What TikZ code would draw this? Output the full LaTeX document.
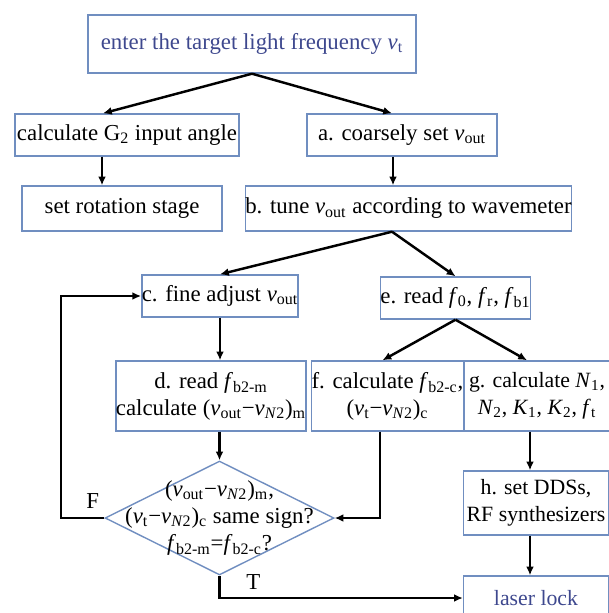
\documentclass[tikz,border=0pt]{standalone}
\usepackage{fontspec}
\setmainfont{Liberation Serif}
\usetikzlibrary{positioning,shapes.geometric,arrows.meta}

\definecolor{boxblue}{RGB}{112,142,192}
\definecolor{textblue}{RGB}{62,72,142}

\newcommand{\nuv}[1]{\textit{ν}\textsubscript{#1}}
\newcommand{\nuN}{\textit{ν}\textsubscript{\textit{N}2}}
\newcommand{\fv}[1]{\textit{f}\textsubscript{#1}}

\begin{document}
\begin{tikzpicture}[
    x=0.02cm, y=-0.02cm,
    box/.style={rectangle, draw=boxblue, line width=0.8pt, inner sep=0pt, align=center, font=\fontsize{13pt}{15.3pt}\selectfont},
    narrowbox/.style={box, font=\fontsize{12.4pt}{15.3pt}\selectfont, minimum width=2.90cm},
    decision/.style={diamond, draw=boxblue, line width=0.8pt, inner sep=0pt, minimum width=4.58cm, minimum height=2.28cm},
    flow/.style={draw, line width=1.4pt, -{Latex[length=5pt,width=4.5pt]}},
    tag/.style={inner sep=0pt, font=\fontsize{13pt}{15.3pt}\selectfont}
]
\useasboundingbox (0,0) rectangle (609,613);

% Boxes
\node[box, text=textblue, minimum width=6.56cm, minimum height=1.16cm] (enter) at (252,44) {enter the target light frequency \nuv{t}};
\node[box, minimum width=4.48cm, minimum height=0.84cm] (calcG) at (127,135) {calculate G\textsubscript{2} input angle};
\node[box, minimum width=3.80cm, minimum height=0.84cm] (coarse) at (402,135) {a. coarsely set \nuv{out}};
\node[box, minimum width=4.00cm, minimum height=0.90cm] (rotate) at (122,208.5) {set rotation stage};
\node[box, minimum width=6.50cm, minimum height=0.90cm] (tune) at (408.5,208.5) {b. tune \nuv{out} according to wavemeter};
\node[box, minimum width=3.12cm, minimum height=0.84cm] (fine) at (220,296) {c. fine adjust \nuv{out}};
\node[box, minimum width=2.98cm, minimum height=0.84cm] (readf) at (455.5,298) {e. read \fv{0}, \fv{r}, \fv{b1}};
\node[box, minimum width=3.72cm, minimum height=1.40cm] (readb) at (211,396) {d. read \fv{b2-m}\\calculate (\nuv{out}−\nuN)\textsubscript{m}};
\node[box, minimum width=2.94cm, minimum height=1.40cm] (calcf) at (387.5,396) {f. calculate \fv{b2-c},\\(\nuv{t}−\nuN)\textsubscript{c}};
\node[narrowbox, minimum height=1.40cm] (calcN) at (537,396) {g. calculate \textit{N}\textsubscript{1},\\\textit{N}\textsubscript{2}, \textit{K}\textsubscript{1}, \textit{K}\textsubscript{2}, \fv{t}};
\node[narrowbox, minimum height=1.28cm] (setdds) at (536,503) {h. set DDSs,\\RF synthesizers};
\node[narrowbox, text=textblue, minimum height=0.88cm] (lock) at (536,598) {laser lock};

% Decision
\node[decision] (chk) at (219.5,518) {};
\node[tag, align=center] (chktxt) at (chk) {(\nuv{out}−\nuN)\textsubscript{m},\\(\nuv{t}−\nuN)\textsubscript{c} same sign?\\\fv{b2-m}=\fv{b2-c}?};

% Branch labels
\node[tag, above left=0.18cm and 0.1cm of chk.west] (lblF) {F};
\node[tag, below right=-0.04cm and 0.53cm of chk.south] (lblT) {T};

% Helper points
\coordinate (colR) at (530,0);
\coordinate (loopF) at (61,518);

% Connectors
\draw[flow] (enter.south) -- ([xshift=-0.48cm]calcG.north);
\draw[flow] (enter.south) -- ([xshift=-0.20cm]coarse.north);
\draw[flow] ([xshift=-0.50cm]calcG.south) -- ([xshift=-0.50cm]calcG.south |- rotate.north);
\draw[flow] ([xshift=-0.18cm]coarse.south) -- ([xshift=-0.18cm]coarse.south |- tune.north);
\draw[flow] ([xshift=-0.33cm]tune.south) -- (fine.north);
\draw[flow] ([xshift=-0.33cm]tune.south) -- (readf.north);
\draw[flow] (fine.south) -- (fine.south |- readb.north);
\draw[flow] (readb.south -| chk.north) -- (chk.north);
\draw[flow] (readf.south) -- ([xshift=-0.10cm]calcf.north);
\draw[flow] (readf.south) -- ([xshift=-0.20cm]calcN.north);
\draw[flow] ([xshift=-0.15cm]calcf.south) |- (chk.east);
\draw[flow] (colR |- calcN.south) -- (colR |- setdds.north);
\draw[flow] (colR |- setdds.south) -- (colR |- lock.north);
\draw[flow] (chk.west) -- (loopF) |- (fine.west);
\draw[flow] (chk.south) |- (lock.west);

\end{tikzpicture}
\end{document}
